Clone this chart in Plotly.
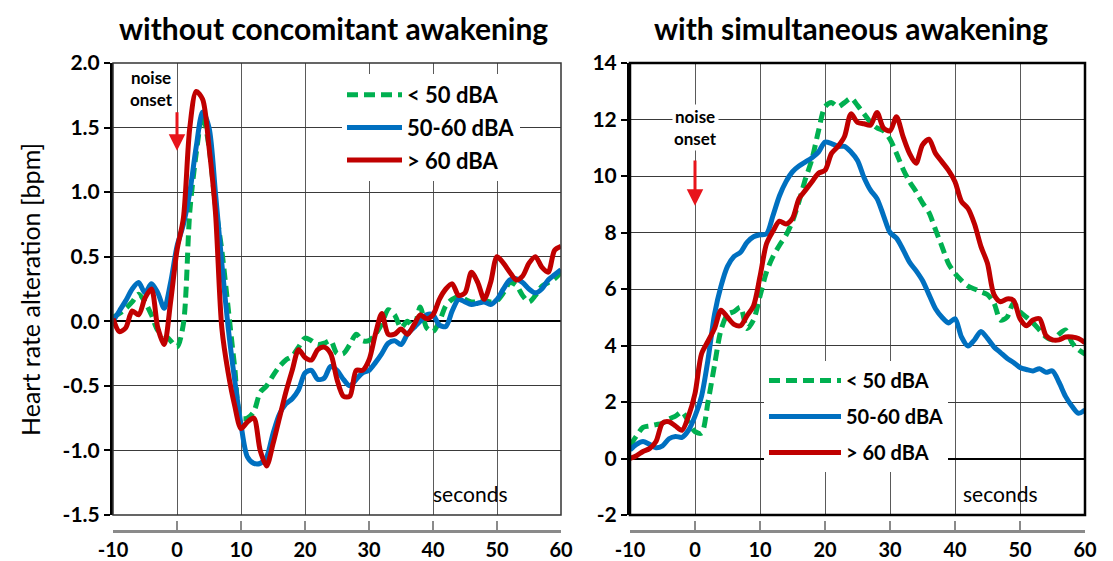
import plotly.graph_objects as go

# ---------------- data ----------------
t = list(range(-10, 61))

left_lt50 = [0.03, 0.06, 0.10, 0.15, 0.21, 0.15, 0.05, -0.07, -0.10, -0.15,
             -0.20, -0.02, 0.85, 1.30, 1.60, 1.35, 0.90, 0.55, 0.10, -0.35,
             -0.75, -0.75, -0.70, -0.55, -0.50, -0.42, -0.35, -0.30, -0.27, -0.20,
             -0.13, -0.15, -0.18, -0.17, -0.15, -0.25, -0.25, -0.18, -0.10, -0.15,
             -0.15, -0.10, -0.02, 0.09, 0.05, -0.05, 0.00, -0.05, 0.11, -0.05,
             -0.08, 0.00, 0.12, 0.17, 0.19, 0.17, 0.15, 0.15, 0.16, 0.15,
             0.16, 0.22, 0.30, 0.28, 0.20, 0.15, 0.20, 0.27, 0.30, 0.33,
             0.38]
left_50_60 = [0.00, 0.08, 0.16, 0.25, 0.30, 0.22, 0.29, 0.22, 0.10, 0.30,
              0.58, 0.75, 1.00, 1.35, 1.62, 1.50, 1.00, 0.45, -0.05, -0.45,
              -0.80, -1.05, -1.10, -1.10, -1.05, -0.87, -0.72, -0.64, -0.60, -0.53,
              -0.40, -0.38, -0.45, -0.44, -0.35, -0.38, -0.45, -0.50, -0.45, -0.40,
              -0.38, -0.32, -0.25, -0.17, -0.15, -0.18, -0.10, -0.05, 0.00, 0.05,
              0.05, -0.03, -0.04, 0.08, 0.17, 0.15, 0.13, 0.14, 0.15, 0.13,
              0.17, 0.25, 0.32, 0.33, 0.30, 0.25, 0.22, 0.25, 0.32, 0.36,
              0.40]
left_gt60 = [0.02, -0.08, -0.05, 0.08, 0.05, 0.18, 0.25, -0.05, -0.18, 0.15,
             0.55, 0.80, 1.50, 1.78, 1.72, 1.35, 0.85, -0.05, -0.40, -0.65,
             -0.83, -0.78, -0.75, -1.00, -1.12, -0.95, -0.75, -0.55, -0.38, -0.22,
             -0.28, -0.30, -0.22, -0.20, -0.25, -0.45, -0.58, -0.58, -0.38, -0.38,
             -0.30, -0.10, 0.06, -0.10, -0.10, -0.06, -0.10, -0.03, 0.05, 0.02,
             0.05, 0.17, 0.25, 0.29, 0.20, 0.22, 0.38, 0.30, 0.17, 0.30,
             0.50, 0.45, 0.38, 0.32, 0.35, 0.45, 0.50, 0.42, 0.38, 0.55,
             0.58]

right_lt50 = [0.45, 0.80, 1.10, 1.15, 1.20, 1.25, 1.40, 1.50, 1.65, 1.30,
              0.95, 0.90, 2.00, 3.30, 4.55, 5.10, 5.20, 5.35, 4.60, 4.90,
              5.75, 6.60, 7.15, 7.55, 7.90, 8.40, 9.10, 9.90, 10.60, 11.60,
              12.45, 12.60, 12.45, 12.60, 12.75, 12.50, 12.20, 11.90, 11.70, 11.60,
              11.30, 10.80, 10.25, 9.80, 9.45, 9.05, 8.70, 8.10, 7.50, 6.90,
              6.55, 6.30, 6.10, 6.00, 5.90, 5.80, 5.50, 4.90, 5.00, 5.50,
              5.20, 5.00, 4.80, 4.55, 4.30, 4.20, 4.40, 4.55, 4.10, 3.85,
              3.70]
right_50_60 = [0.30, 0.50, 0.60, 0.50, 0.38, 0.45, 0.70, 0.78, 0.75, 1.00,
               1.50, 2.20, 3.50, 5.10, 6.10, 6.80, 7.15, 7.30, 7.65, 7.85,
               7.92, 7.95, 8.60, 9.30, 9.80, 10.15, 10.35, 10.50, 10.65, 10.85,
               11.20, 11.15, 11.05, 11.05, 10.85, 10.55, 9.95, 9.50, 9.20, 8.60,
               8.00, 7.80, 7.40, 6.95, 6.65, 6.30, 5.80, 5.30, 5.00, 4.80,
               4.95, 4.30, 3.98, 4.20, 4.50, 4.25, 3.95, 3.75, 3.55, 3.40,
               3.22, 3.15, 3.10, 3.18, 3.05, 3.10, 2.70, 2.20, 1.85, 1.60,
               1.72]
right_gt60 = [0.00, 0.10, 0.25, 0.35, 0.60, 1.25, 1.30, 1.15, 1.00, 1.50,
              2.30, 3.70, 4.15, 4.60, 5.25, 5.00, 4.75, 4.70, 5.05, 5.40,
              6.44, 7.60, 8.05, 8.40, 8.30, 8.50, 9.20, 9.50, 9.80, 10.10,
              10.20, 10.80, 11.05, 11.40, 12.20, 11.90, 11.85, 11.80, 12.25, 11.70,
              11.60, 12.10, 11.40, 10.80, 10.45, 11.10, 11.30, 10.80, 10.50, 10.20,
              9.80, 9.10, 8.85, 8.30, 7.50, 6.90, 5.80, 5.55, 5.65, 5.60,
              4.95, 4.70, 4.90, 4.95, 4.35, 4.20, 4.20, 4.30, 4.30, 4.25,
              4.10]

series_names = ["&lt; 50 dBA", "50-60 dBA", "&gt; 60 dBA"]
colors = ["#00B050", "#0070C0", "#C00000"]
dashes = ["11px,6px", "solid", "solid"]

left_ticks = [-1.5, -1.0, -0.5, 0.0, 0.5, 1.0, 1.5, 2.0]
right_ticks = [-2, 0, 2, 4, 6, 8, 10, 12, 14]
x_ticks = [-10, 0, 10, 20, 30, 40, 50, 60]

W, H = 1113, 561
FONT = "Lato, 'Open Sans', sans-serif"

fig = go.Figure()

for i, ys in enumerate([left_lt50, left_50_60, left_gt60]):
    fig.add_trace(go.Scatter(
        x=t, y=ys, mode="lines", name=series_names[i],
        line=dict(color=colors[i], width=5, dash=dashes[i], shape="spline", smoothing=0.8),
        xaxis="x", yaxis="y", legend="legend", legendgroup=f"l{i}"))

for i, ys in enumerate([right_lt50, right_50_60, right_gt60]):
    fig.add_trace(go.Scatter(
        x=t, y=ys, mode="lines", name=series_names[i],
        line=dict(color=colors[i], width=5, dash=dashes[i], shape="spline", smoothing=0.8),
        xaxis="x2", yaxis="y2", legend="legend2", legendgroup=f"r{i}"))

ydom = [1 - 515 / H, 1 - 63 / H]
xpos = 1 - 531 / H

common_x = dict(
    range=[-10, 60], tickvals=x_ticks, ticktext=[str(v) for v in x_ticks],
    showgrid=True, gridcolor="#5a5a5a", gridwidth=1,
    showline=True, linecolor="#8a8a8a", linewidth=3,
    ticks="inside", ticklen=9, tickwidth=2, tickcolor="#8a8a8a",
    tickfont=dict(family=FONT, size=20, color="black", weight="bold"),
    zeroline=False, anchor="free", position=xpos, automargin=False,
)
common_y = dict(
    domain=ydom, showgrid=True, gridcolor="#3a3a3a", gridwidth=1,
    showline=True, linecolor="black", linewidth=3,
    ticks="outside", ticklen=6, tickwidth=2, tickcolor="black",
    tickfont=dict(family=FONT, size=21, color="black", weight="bold"),
    zeroline=True, zerolinecolor="black", zerolinewidth=2, automargin=False,
)

fig.update_layout(
    width=W, height=H, autosize=False,
    margin=dict(l=0, r=0, t=0, b=0, pad=0),
    paper_bgcolor="white", plot_bgcolor="white",
    font=dict(family=FONT, color="black"),
    xaxis=dict(domain=[113 / W, 561 / W], **common_x),
    xaxis2=dict(domain=[630 / W, 1085 / W], **common_x),
    yaxis=dict(range=[-1.5, 2.0], tickvals=left_ticks,
               ticktext=[f"{v:.1f}" for v in left_ticks], anchor="x", **common_y),
    yaxis2=dict(range=[-2, 14], tickvals=right_ticks,
                ticktext=[str(v) for v in right_ticks], anchor="x2", **common_y),
    legend=dict(x=342 / W, y=1 - 74 / H, xanchor="left", yanchor="top",
                bgcolor="white", borderwidth=0, itemwidth=55,
                tracegroupgap=1,
                font=dict(family=FONT, size=22, color="black", weight="bold")),
    legend2=dict(x=764 / W, y=1 - 361 / H, xanchor="left", yanchor="top",
                 bgcolor="white", borderwidth=0, itemwidth=72,
                 tracegroupgap=7,
                 font=dict(family=FONT, size=20, color="black", weight="bold")),
    showlegend=True,
)

# plot-area borders (top/right)
fig.add_shape(type="rect", xref="x domain", yref="y domain", x0=0, x1=1, y0=0, y1=1,
              line=dict(color="#333", width=1.5), layer="above")
fig.add_shape(type="rect", xref="x2 domain", yref="y2 domain", x0=0, x1=1, y0=0, y1=1,
              line=dict(color="black", width=2.5), layer="above")

ann = []
# titles
ann.append(dict(text="without concomitant awakening", x=333 / W, y=1 - 28 / H,
                xref="paper", yref="paper", showarrow=False,
                xanchor="center", yanchor="middle",
                font=dict(family=FONT, size=30, color="black", weight="bold")))
ann.append(dict(text="with simultaneous awakening", x=851 / W, y=1 - 28 / H,
                xref="paper", yref="paper", showarrow=False,
                xanchor="center", yanchor="middle",
                font=dict(family=FONT, size=30, color="black", weight="bold")))
# y title
ann.append(dict(text="Heart rate alteration [bpm]", x=30 / W, y=1 - 290 / H,
                xref="paper", yref="paper", showarrow=False, textangle=-90,
                xanchor="center", yanchor="middle",
                font=dict(family=FONT, size=25, color="black")))
# noise onset labels
ann.append(dict(text="noise<br>onset", x=-4.0, y=1.80, xref="x", yref="y",
                showarrow=False, xanchor="center", yanchor="middle",
                font=dict(family=FONT, size=17, color="black", weight="bold")))
ann.append(dict(text="noise<br>onset", x=0, y=11.7, xref="x2", yref="y2",
                showarrow=False, bgcolor="white", xanchor="center", yanchor="middle",
                font=dict(family=FONT, size=17, color="black", weight="bold")))
# arrows
ann.append(dict(text="", x=0, y=1.32, ax=0, ay=1.63, xref="x", yref="y",
                axref="x", ayref="y", showarrow=True, arrowhead=2, arrowsize=1.1,
                arrowwidth=3, arrowcolor="#E8141B"))
ann.append(dict(text="", x=0, y=8.95, ax=0, ay=10.6, xref="x2", yref="y2",
                axref="x2", ayref="y2", showarrow=True, arrowhead=2, arrowsize=1.1,
                arrowwidth=3, arrowcolor="#E8141B"))
# seconds labels
ann.append(dict(text="seconds", x=45.9, y=-1.33, xref="x", yref="y", showarrow=False,
                xanchor="center", yanchor="middle",
                font=dict(family=FONT, size=21, color="black")))
ann.append(dict(text="seconds", x=47.0, y=-1.23, xref="x2", yref="y2", showarrow=False,
                xanchor="center", yanchor="middle",
                font=dict(family=FONT, size=21, color="black")))

fig.update_layout(annotations=ann)

fig.write_html("out.html", config={"displayModeBar": False},
               post_script="document.body.style.margin='0';")
